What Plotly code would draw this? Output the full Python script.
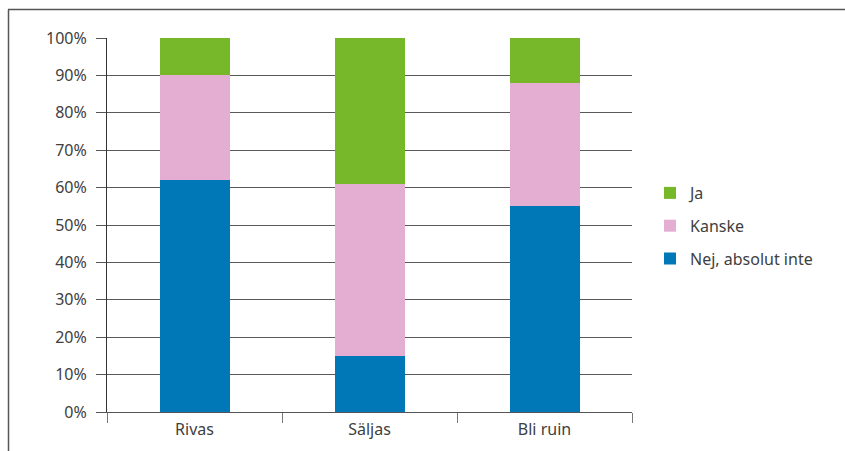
import plotly.graph_objects as go

categories = ["Rivas", "Säljas", "Bli ruin"]
nej = [62, 15, 55]
kanske = [28, 46, 33]
ja = [10, 39, 12]
series_names = ["Nej, absolut inte", "Kanske", "Ja"]
legend_ranks = [3, 2, 1]
colors = ["#0077b6", "#e3aed1", "#76b82a"]
tick_vals = [0, 10, 20, 30, 40, 50, 60, 70, 80, 90, 100]
tick_text = [f"{v}%" for v in tick_vals]

W, H = 845, 451
L, R, T, B = 107, 213, 38, 39
pw, ph = W - L - R, H - T - B

fig = go.Figure()
for name, vals, col, rk in zip(series_names, [nej, kanske, ja], colors, legend_ranks):
    fig.add_trace(go.Bar(x=categories, y=vals, name=name, marker_color=col,
                         marker_line_width=0, width=0.4, legendgroup=name,
                         legendrank=rk))

def px_x(p):
    return (p - L) / pw

def px_y(p):
    return (H - B - p) / ph

fig.update_layout(
    width=W, height=H,
    margin=dict(l=L, r=R, t=T, b=B, pad=0),
    barmode="stack",
    paper_bgcolor="white", plot_bgcolor="white",
    font=dict(family="Noto Sans", size=16, color="#404040"),
    showlegend=True,
    legend=dict(x=px_x(650), y=px_y(176), xanchor="left", yanchor="top",
                traceorder="grouped", tracegroupgap=9,
                font=dict(size=16, color="#404040"), itemwidth=30,
                bgcolor="rgba(0,0,0,0)"),
    xaxis=dict(type="category", tickson="boundaries", ticks="outside", ticklen=10,
               tickcolor="#777777", showline=True, linecolor="#555555", linewidth=1,
               showgrid=False, range=[-0.5, 2.5], tickfont=dict(size=16),
               ticklabelstandoff=3),
    yaxis=dict(range=[0, 100], tickvals=tick_vals, ticktext=tick_text,
               ticks="outside", ticklen=10, tickcolor="#555555",
               showgrid=True, gridcolor="#5a5a5a", gridwidth=1,
               showline=True, linecolor="#333333", linewidth=1,
               zeroline=False, tickfont=dict(size=16), ticklabelstandoff=6),
    shapes=[
        dict(type="line", xref="paper", yref="paper", x0=px_x(8), x1=px_x(860),
             y0=px_y(9.5), y1=px_y(9.5), line=dict(color="#555555", width=1.5)),
        dict(type="line", xref="paper", yref="paper", x0=px_x(8.5), x1=px_x(8.5),
             y0=px_y(9.5), y1=px_y(470), line=dict(color="#555555", width=1.5)),
    ],
)
fig.write_html("out.html")
